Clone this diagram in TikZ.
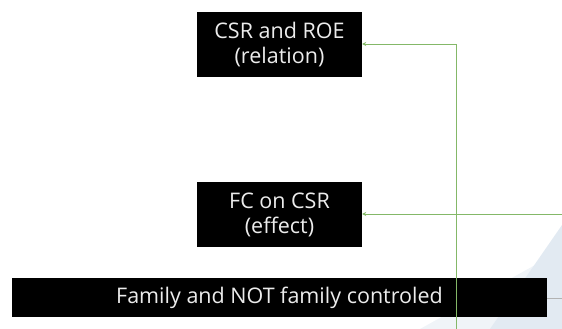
\documentclass[tikz,border=0pt]{standalone}
\usepackage{fontspec}
\setmainfont{Open Sans}
\usetikzlibrary{arrows.meta}
\definecolor{linkgreen}{RGB}{132,184,104}
\definecolor{boxtext}{RGB}{236,236,236}
\definecolor{swoosh}{RGB}{226,234,242}
\definecolor{swooshlight}{RGB}{240,244,248}
\tikzset{
  blackbox/.style={fill=black, text=boxtext, align=center, inner sep=0pt,
    font=\fontsize{21.5}{25}\selectfont},
  link/.style={draw=linkgreen, line width=0.7pt},
  tiplink/.style={link, -{Stealth[length=4pt,width=4pt]}},
}
\begin{document}
\begin{tikzpicture}[x=1pt, y=-1pt]
  \useasboundingbox (0,0) rectangle (562,329);
  % pale background shapes in the lower right corner
  \fill[swooshlight] (420,329) -- (562,250) -- (562,329) -- cycle;
  \fill[swoosh] (490,329) -- (562,225) -- (562,329) -- cycle;
  % boxes
  \node[blackbox, minimum width=165pt, minimum height=65pt] (rel) at (279.5,44.5) {CSR and ROE\\(relation)};
  \node[blackbox, minimum width=165pt, minimum height=65pt] (eff) at (279.5,214.5) {FC on CSR\\(effect)};
  \node[blackbox, minimum width=535pt, minimum height=39pt] (fam) at (279.5,297.5) {Family and NOT family controled};
  % free ends of the connectors
  \coordinate (vbot) at (456,329);
  \coordinate (vtop) at (456,44);
  \coordinate (hright) at (562,214);
  \coordinate (famright) at (562,298);
  % connectors
  \draw[tiplink] (vbot) -- (vtop) -- (rel.east |- vtop);
  \draw[tiplink] (hright) -- (eff.east |- hright);
  \draw[draw=gray!60, line width=0.6pt] (fam.east |- famright) -- (famright);
\end{tikzpicture}
\end{document}
